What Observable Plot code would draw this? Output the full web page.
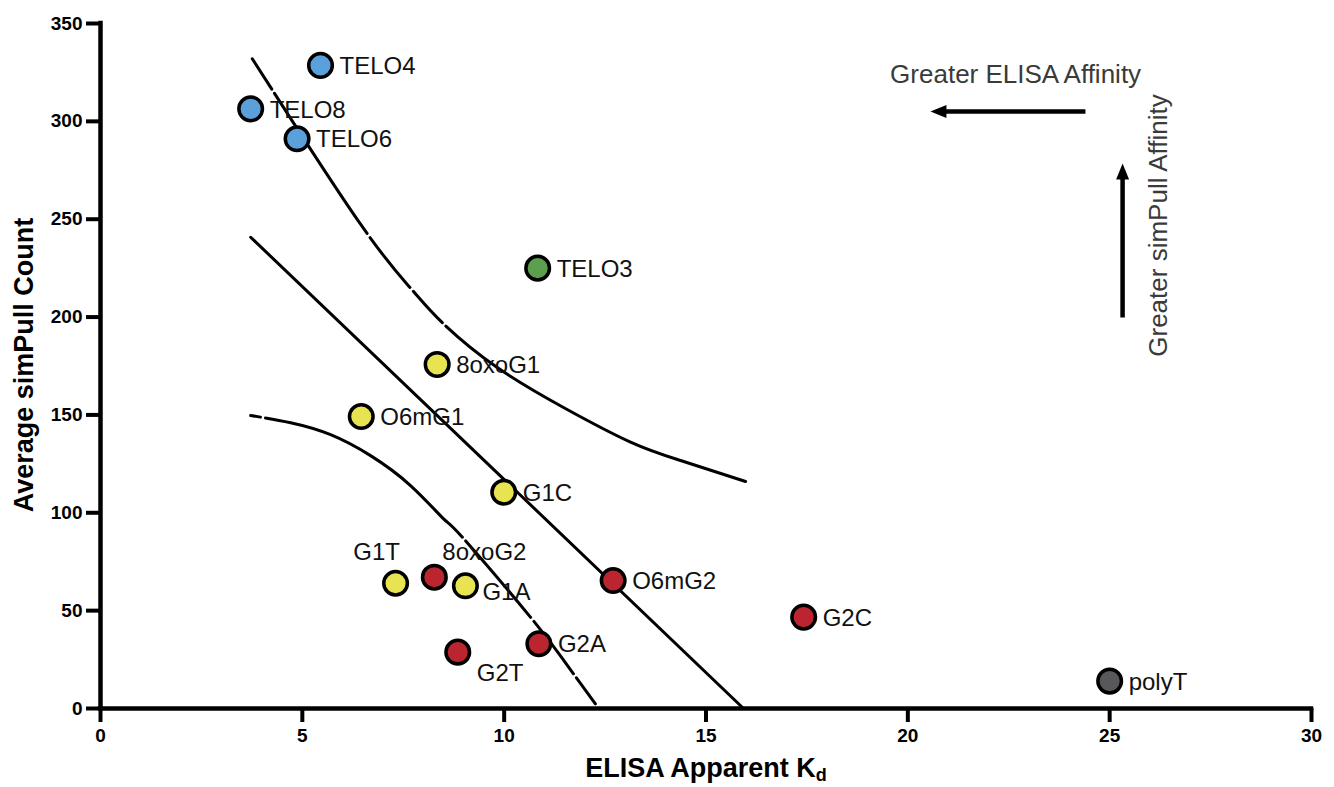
<!DOCTYPE html>
<html><head><meta charset="utf-8">
<script src="https://cdn.jsdelivr.net/npm/d3@7"></script>
<script src="https://cdn.jsdelivr.net/npm/@observablehq/plot@0.6"></script>
<style>
body{margin:0;background:#fff;}
#chart svg{font-family:"Liberation Sans",Arial,Helvetica,sans-serif;}
g[aria-label="x-axis tick label"], g[aria-label="y-axis tick label"]{font-weight:bold;}
</style></head><body><div id="chart"></div>
<script>
// ---- data ----
const names    = ["TELO4","TELO8","TELO6","TELO3","8oxoG1","O6mG1","G1C","G1T","8oxoG2","G1A","O6mG2","G2A","G2T","G2C","polyT"];
const kd       = [5.45, 3.72, 4.87, 10.83, 8.34, 6.46, 9.99, 7.31, 8.27, 9.04, 12.70, 10.86, 8.85, 17.42, 25.0];
const counts   = [328.6, 306.4, 291.1, 225.0, 175.8, 149.2, 110.5, 64.0, 67.1, 62.7, 65.4, 33.1, 28.8, 46.7, 14.0];
const groups   = ["telo","telo","telo","telo3","g1","g1","g1","g1","g2","g1","g2","g2","g2","g2","polyT"];
const labelPos = ["right","right","right","right","right","right","right","aboveLeft","aboveRight","rightLow","right","right","belowRight","right","right"];

// regression line and confidence band curves
const fitX = [3.72, 15.93];
const fitY = [240.8, 0];
const upperX = [3.76, 6.39, 7.68, 8.50, 9.83, 11.47, 13.13, 14.37, 15.98];
const upperY = [332.0, 249.0, 214.8, 196.5, 174.2, 153.8, 136.1, 126.7, 116.0];
const lowerX = [3.72, 4.71, 5.70, 6.69, 7.68, 8.50, 9.00, 10.65, 11.48, 12.26];
const lowerY = [149.7, 146.0, 139.9, 129.2, 113.9, 96.9, 86.7, 46.7, 24.5, 2.4];

const xTicks = [0, 5, 10, 15, 20, 25, 30];
const yTicks = [0, 50, 100, 150, 200, 250, 300, 350];

// annotations
const noteText = ["Greater ELISA Affinity", "Greater simPull Affinity"];
const noteX = [22.67, 26.21];
const noteY = [324.1, 246.8];
const noteRotate = [0, -90];
const arrowFromX = [24.40, 25.32];
const arrowFromY = [305.0, 199.8];
const arrowToX = [20.9, 25.32];
const arrowToY = [305.0, 272.0];
const headX = [20.56, 25.32];
const headY = [305.0, 278.5];
const headDir = ["left", "up"];

// ---- build ----
const colorOf = {telo:"#5aa1dc", telo3:"#5ca04f", g1:"#e8e451", g2:"#bb2530", polyT:"#58585b"};
const pts = names.map((n,i)=>({name:n, x:kd[i], y:counts[i], g:groups[i], pos:labelPos[i]}));
const line = (xs, ys) => xs.map((x,i)=>({x, y:ys[i]}));
const notes = noteText.map((t,i)=>({t, x:noteX[i], y:noteY[i], r:noteRotate[i]}));
const arrows = arrowFromX.map((x,i)=>({x1:x, y1:arrowFromY[i], x2:arrowToX[i], y2:arrowToY[i]}));
const heads = headX.map((x,i)=>({x, y:headY[i], d:headDir[i]}));

const leftHead = {draw(ctx){ctx.moveTo(0,0); ctx.lineTo(16,-6.5); ctx.lineTo(16,6.5); ctx.closePath();}};
const upHead = {draw(ctx){ctx.moveTo(0,0); ctx.lineTo(-6.5,16); ctx.lineTo(6.5,16); ctx.closePath();}};

const posStyle = {
  right:      {dx:19, dy:1,   anchor:"start"},
  rightLow:   {dx:17, dy:7,   anchor:"start"},
  aboveLeft:  {dx:-19, dy:-31, anchor:"middle"},
  aboveRight: {dx:8, dy:-25,  anchor:"start"},
  belowRight: {dx:19, dy:21,  anchor:"start"}
};
const labelMarks = Object.entries(posStyle).map(([k,s]) =>
  Plot.text(pts.filter(d=>d.pos===k), {x:"x", y:"y", text:"name", dx:s.dx, dy:s.dy, textAnchor:s.anchor, fontSize:24, fill:"#111"})
);

const lineOpts = {x:"x", y:"y", stroke:"black", strokeWidth:3, curve:"natural"};

const chart = Plot.plot({
  width: 1334, height: 787,
  marginLeft: 100, marginRight: 23, marginTop: 23, marginBottom: 79,
  x: {domain:[0,30]},
  y: {domain:[0,350]},
  color: {type:"identity"},
  style: {fontFamily:"Liberation Sans, Arial, Helvetica, sans-serif", fontSize:"19px", color:"black", background:"white"},
  marks: [
    Plot.axisX({ticks:xTicks, tickSize:14, tickPadding:6, strokeWidth:4, fontSize:19, fontWeight:"bold", label:null}),
    Plot.axisY({ticks:yTicks, tickSize:14, tickPadding:4, strokeWidth:4, fontSize:19, fontWeight:"bold", label:null}),
    Plot.ruleY([0], {strokeWidth:4.5, strokeLinecap:"square"}),
    Plot.ruleX([0], {strokeWidth:4.5, strokeLinecap:"square"}),
    Plot.line(line(fitX, fitY), {x:"x", y:"y", stroke:"black", strokeWidth:3}),
    Plot.line(line(upperX, upperY), {...lineOpts, strokeDasharray:"36,5,168,5,64,5,43,5,3000"}),
    Plot.line(line(lowerX, lowerY), {...lineOpts, strokeDasharray:"10,5,236,5,100,5,66,5,3000"}),
    Plot.dot(pts, {x:"x", y:"y", r:11.8, fill:d=>colorOf[d.g], stroke:"black", strokeWidth:3.5}),
    ...labelMarks,
    Plot.link(arrows, {x1:"x1", y1:"y1", x2:"x2", y2:"y2", stroke:"black", strokeWidth:4.5}),
    Plot.dot(heads.filter(d=>d.d==="left"), {x:"x", y:"y", symbol:leftHead, fill:"black", stroke:"none"}),
    Plot.dot(heads.filter(d=>d.d==="up"), {x:"x", y:"y", symbol:upHead, fill:"black", stroke:"none"}),
    Plot.text(notes.filter(d=>d.r===0), {x:"x", y:"y", text:"t", fontSize:26, fill:"#3a3a3a"}),
    Plot.text(notes.filter(d=>d.r!==0), {x:"x", y:"y", text:"t", fontSize:26, fill:"#3a3a3a", rotate:-90})
  ]
});
document.getElementById("chart").appendChild(chart);

// axis titles
const svg = d3.select(chart);
const xt = svg.append("text").attr("x", 706).attr("y", 777).attr("text-anchor","middle")
  .attr("font-size", 27).attr("font-weight","bold").attr("fill","black");
xt.append("tspan").text("ELISA Apparent K");
xt.append("tspan").attr("dy", 4).attr("font-size", 18).text("d");
svg.append("text").attr("transform","translate(33,365) rotate(-90)").attr("text-anchor","middle")
  .attr("font-size", 27).attr("font-weight","bold").attr("fill","black").text("Average simPull Count");
</script>
</body></html>
